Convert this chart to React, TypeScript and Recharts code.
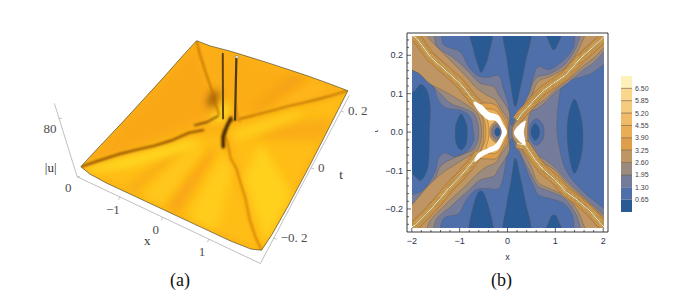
import React from "react"
import { ScatterChart, Scatter, XAxis, YAxis, BarChart, Bar, Cell } from "recharts"

// ---- panel (b): contour levels, colour bar ----
const levelTicks = [0.65, 1.3, 1.95, 2.6, 3.25, 3.9, 4.55, 5.2, 5.85, 6.5]
const levelSteps = [0.65, 0.65, 0.65, 0.65, 0.65, 0.65, 0.65, 0.65, 0.65, 0.65, 0.65]
const levelColors = ["#2a5a93", "#4f6fab", "#757b9a", "#9b8a7e", "#be9563", "#de9e4b", "#e9ad56", "#f0ba66", "#f5cc7e", "#f9d88e", "#fdf0b8"]

const xFrameTicks = [-2, -1.8, -1.6, -1.4, -1.2, -1, -0.8, -0.6, -0.4, -0.2, 0, 0.2, 0.4, 0.6, 0.8, 1, 1.2, 1.4, 1.6, 1.8, 2]
const tFrameTicks = [-0.24, -0.22, -0.2, -0.18, -0.16, -0.14, -0.12, -0.1, -0.08, -0.06, -0.04, -0.02, 0, 0.02, 0.04, 0.06, 0.08, 0.1, 0.12, 0.14, 0.16, 0.18, 0.2, 0.22, 0.24]
const xMajor = [-2, -1, 0, 1, 2]
const tMajor = [-0.2, -0.1, 0, 0.1, 0.2]

// contour outlines, flat x,t lists
const lowTop1 = [-0.79, 0.27, -0.717, 0.214, -0.612, 0.168, -0.557, 0.155, -0.494, 0.168, -0.404, 0.2, -0.334, 0.27]
const lowTop2 = [-0.08, 0.27, -0.02, 0.1875, 0.05, 0.127, 0.15, 0.066, 0.26, 0.118, 0.36, 0.179, 0.47, 0.27]
const lowTop3 = [0.78, 0.27, 0.88, 0.227, 0.95, 0.214, 1.03, 0.227, 1.13, 0.27]
const lowBot1 = [-0.8, -0.27, -0.717, -0.19, -0.578, -0.153, -0.438, -0.18, -0.313, -0.27]
const lowBot2 = [-0.08, -0.27, -0.03, -0.19, 0.06, -0.13, 0.15, -0.068, 0.26, -0.12, 0.36, -0.18, 0.47, -0.27]
const lowBot3 = [0.78, -0.27, 0.88, -0.225, 0.95, -0.216, 1.03, -0.225, 1.13, -0.27]
const lowLeftBig = [-2.2, 0.07, -1.93, 0.109, -1.82, 0.124, -1.69, 0.109, -1.62, 0.066, -1.635, 0, -1.66, -0.086, -1.8, -0.125, -1.93, -0.116, -2.2, -0.07]
const lowLeftSmall = [-0.975, 0.047, -0.87, 0.022, -0.85, 0, -0.87, -0.03, -0.975, -0.047, -1.08, -0.03, -1.1, 0, -1.08, 0.022]
const lowRightBig = [1.385, 0.085, 1.5, 0.05, 1.56, 0, 1.53, -0.06, 1.385, -0.108, 1.27, -0.06, 1.23, 0, 1.27, 0.05]

const band130 = [
  -1.48, 0.27, -1.34, 0.227, -1, 0.209, -0.84, 0.174, -0.65, 0.148, -0.44, 0.142, -0.19, 0.146, -0.1, 0.114, 0, 0.075, 0.04, 0.04, 0.05, 0.02,
  0.1, 0.02, 0.15, 0.036, 0.4, 0.088, 0.54, 0.148, 0.64, 0.17, 0.88, 0.163, 1.2, 0.192, 1.37, 0.222, 1.48, 0.27, 2.2, 0.27, 2.2, 0.205,
  1.79, 0.157, 1.54, 0.144, 1.16, 0.127, 1.06, 0.083, 1.02, 0.03, 1.02, 0, 1.06, -0.034, 1.16, -0.086, 1.34, -0.125, 1.61, -0.16, 1.86, -0.186, 2.2, -0.22,
  2.2, -0.27, 1.48, -0.27, 1.34, -0.216, 1.16, -0.186, 0.88, -0.173, 0.64, -0.164, 0.54, -0.142, 0.43, -0.112, 0.26, -0.06, 0.15, -0.04, 0.1, -0.02,
  0.05, -0.02, 0.03, -0.04, -0.02, -0.06, -0.16, -0.142, -0.44, -0.147, -0.68, -0.151, -0.89, -0.181, -1.03, -0.212, -1.34, -0.225, -1.52, -0.27, -2.2, -0.27,
  -2.2, -0.18, -1.76, -0.151, -1.52, -0.103, -1.45, -0.069, -1.31, -0.055, -1.1, -0.064, -0.86, -0.051, -0.72, -0.025, -0.72, 0, -0.79, 0.04, -1, 0.057,
  -1.31, 0.064, -1.48, 0.092, -1.59, 0.148, -1.76, 0.179, -2.2, 0.205, -2.2, 0.27,
]
const band195Left = [
  -1.62, 0.27, -1.48, 0.222, -1.17, 0.196, -0.96, 0.174, -0.79, 0.153, -0.58, 0.127, -0.3, 0.118, -0.19, 0.096, 0.01, 0.057, 0.03, 0.03, 0.01, 0, 0.03, -0.03, 0.01, -0.055,
  -0.19, -0.095, -0.3, -0.115, -0.58, -0.125, -0.8, -0.15, -0.98, -0.17, -1.2, -0.195, -1.48, -0.225, -1.65, -0.27, -2.2, -0.27, -2.2, -0.21, -1.76, -0.165, -1.52, -0.12,
  -1.41, -0.09, -1.2, -0.072, -0.93, -0.058, -0.72, -0.045, -0.63, -0.023, -0.61, 0, -0.63, 0.023, -0.72, 0.049, -0.93, 0.062, -1.2, 0.075, -1.41, 0.1, -1.52, 0.114, -1.76, 0.148, -2.2, 0.18, -2.2, 0.27,
]
const band195Right = [
  0.08, 0.01, 0.2, 0.04, 0.42, 0.095, 0.58, 0.14, 0.88, 0.152, 1.2, 0.178, 1.42, 0.22, 1.62, 0.27, 2.2, 0.27, 2.2, 0.24, 1.82, 0.185, 1.55, 0.16, 1.25, 0.128, 0.98, 0.103, 0.8, 0.08,
  0.6, 0.06, 0.42, 0.05, 0.39, 0.02, 0.38, 0, 0.39, -0.02, 0.42, -0.05, 0.6, -0.06, 0.8, -0.075, 1, -0.095, 1.25, -0.13, 1.55, -0.165, 1.85, -0.2, 2.2, -0.24, 2.2, -0.27, 1.62, -0.27,
  1.42, -0.215, 1.2, -0.175, 0.88, -0.155, 0.62, -0.14, 0.42, -0.095, 0.2, -0.04, 0.08, -0.01, 0.07, 0,
]
const band260Left = [
  -1.78, 0.27, -1.62, 0.24, -1.31, 0.2, -1.1, 0.174, -0.84, 0.14, -0.65, 0.114, -0.44, 0.096, -0.26, 0.083, -0.13, 0.057, 0.01, 0.028, -0.01, 0, 0.01, -0.028, -0.13, -0.055,
  -0.26, -0.08, -0.44, -0.09, -0.65, -0.11, -0.84, -0.135, -1.1, -0.165, -1.31, -0.19, -1.62, -0.23, -1.78, -0.27, -2.2, -0.27, -2.2, -0.225, -1.83, -0.165, -1.62, -0.135, -1.35, -0.105,
  -1.1, -0.085, -0.85, -0.065, -0.65, -0.05, -0.57, -0.025, -0.55, 0, -0.57, 0.025, -0.65, 0.05, -0.85, 0.07, -1.1, 0.09, -1.35, 0.108, -1.62, 0.125, -1.83, 0.15, -2.2, 0.185, -2.2, 0.27,
]
const band260Right = [
  0.12, 0.018, 0.3, 0.05, 0.48, 0.09, 0.62, 0.13, 0.88, 0.145, 1.2, 0.168, 1.45, 0.21, 1.72, 0.27, 2.2, 0.27, 2.2, 0.25, 1.85, 0.2, 1.55, 0.17, 1.25, 0.135, 0.98, 0.11, 0.8, 0.088,
  0.6, 0.07, 0.47, 0.055, 0.42, 0.03, 0.41, 0, 0.42, -0.03, 0.47, -0.055, 0.6, -0.068, 0.8, -0.085, 1, -0.102, 1.25, -0.137, 1.55, -0.17, 1.85, -0.205, 2.2, -0.25, 2.2, -0.27, 1.72, -0.27,
  1.45, -0.205, 1.2, -0.168, 0.88, -0.148, 0.62, -0.13, 0.48, -0.09, 0.3, -0.05, 0.12, -0.018, 0.09, 0,
]
const core325 = [-0.6, 0.07, -0.4, 0.075, -0.24, 0.068, -0.12, 0.045, -0.01, 0.018, -0.01, -0.018, -0.12, -0.045, -0.24, -0.068, -0.4, -0.07, -0.6, -0.065, -0.52, -0.03, -0.51, 0, -0.52, 0.03]
const core390 = [-0.55, 0.055, -0.4, 0.06, -0.24, 0.055, -0.12, 0.035, -0.03, 0.012, -0.03, -0.012, -0.12, -0.035, -0.24, -0.055, -0.4, -0.055, -0.55, -0.05, -0.48, -0.025, -0.46, 0, -0.48, 0.025]
const core455 = [-0.45, 0.045, -0.3, 0.043, -0.15, 0.025, -0.06, 0.008, -0.06, -0.008, -0.15, -0.025, -0.3, -0.043, -0.45, -0.042, -0.41, -0.02, -0.4, 0, -0.41, 0.02]

const ringLeft260 = [-0.23, 0.029, -0.1, 0.015, -0.08, 0, -0.1, -0.015, -0.23, -0.029, -0.36, -0.015, -0.38, 0, -0.36, 0.015]
const ringLeft195 = [-0.23, 0.024, -0.13, 0.012, -0.11, 0, -0.13, -0.012, -0.23, -0.024, -0.33, -0.012, -0.35, 0, -0.33, 0.012]
const ringLeft130 = [-0.23, 0.019, -0.15, 0.01, -0.14, 0, -0.15, -0.01, -0.23, -0.019, -0.31, -0.01, -0.32, 0, -0.31, 0.01]
const ringLeft065 = [-0.22, 0.012, -0.17, 0.006, -0.16, 0, -0.17, -0.006, -0.22, -0.012, -0.27, -0.006, -0.28, 0, -0.27, 0.006]
const ringRight130 = [0.59, 0.035, 0.72, 0.02, 0.75, 0, 0.72, -0.02, 0.59, -0.035, 0.47, -0.02, 0.44, 0, 0.47, 0.02]
const ringRight065 = [0.57, 0.022, 0.64, 0.012, 0.66, 0, 0.64, -0.012, 0.57, -0.022, 0.5, -0.012, 0.48, 0, 0.5, 0.012]

const whiteLeft = [-0.72, 0.078, -0.55, 0.07, -0.4, 0.052, -0.2, 0.043, -0.1, 0.02, -0.02, 0, -0.1, -0.02, -0.2, -0.045, -0.4, -0.055, -0.55, -0.065, -0.7, -0.078, -0.62, -0.055, -0.42, -0.042, -0.25, -0.03, -0.13, 0, -0.25, 0.028, -0.42, 0.032, -0.62, 0.055]
const whiteRight = [0.36, 0.03, 0.12, -0.002, 0.36, -0.035, 0.33, 0]

const ridgeTopLeft = [-2.05, 0.255, -1.9, 0.244, -1.62, 0.196, -1.27, 0.157, -1, 0.127, -0.72, 0.083, -0.58, 0.068, -0.44, 0.05]
const ridgeBottomLeft = [-2.05, -0.25, -1.93, -0.242, -1.69, -0.212, -1.41, -0.173, -1.24, -0.147, -1, -0.116, -0.79, -0.086, -0.61, -0.055]
const ridgeTopRight = [2.05, 0.255, 2, 0.248, 1.75, 0.218, 1.51, 0.192, 1.2, 0.148, 0.95, 0.127, 0.71, 0.105, 0.54, 0.083, 0.4, 0.062, 0.29, 0.049, 0.19, 0.031]
const ridgeBottomRight = [0.19, -0.03, 0.36, -0.034, 0.57, -0.073, 0.74, -0.099, 0.99, -0.125, 1.2, -0.155, 1.44, -0.177, 1.72, -0.207, 1.96, -0.242, 2.05, -0.255]

// ---- panel (a): |u| surface read as x,t,u triples ----
const surfaceEdge = [
  [-2, -0.25, 10], [-1.8, -0.25, 5], [-1.4, -0.25, 3], [-0.8, -0.25, 3], [0, -0.25, 3], [0.8, -0.25, 3], [1.4, -0.25, 3], [1.8, -0.25, 5], [2, -0.25, 10],
  [2, -0.2, 4], [2, -0.12, 1], [2, 0, 1], [2, 0.1, 4], [2, 0.18, 7], [2, 0.25, 10],
  [1.6, 0.25, 11], [1, 0.25, 12], [0, 0.25, 12], [-1, 0.25, 11], [-1.6, 0.25, 9], [-2, 0.25, 10],
  [-2, 0.18, 10], [-2, 0.08, 9], [-2, 0, 9], [-2, -0.1, 9], [-2, -0.2, 10],
]
const ridgeBLeft = [[-2, -0.25, 10], [-1.75, -0.218, 11], [-1.5, -0.187, 12], [-1.25, -0.155, 11], [-1, -0.125, 10], [-0.75, -0.095, 11], [-0.5, -0.062, 14], [-0.3, -0.036, 12]]
const ridgeBRight = [[0.12, 0.015, 14], [0.4, 0.05, 13], [0.75, 0.095, 12], [1, 0.125, 12], [1.25, 0.156, 11], [1.5, 0.187, 10], [1.75, 0.218, 10], [2, 0.25, 10]]
const ridgeATop = [[-2, 0.25, 10], [-1.75, 0.22, 3], [-1.5, 0.19, 3], [-1.25, 0.155, 8], [-1, 0.125, 8], [-0.75, 0.095, 8], [-0.5, 0.06, 9], [-0.25, 0.03, 10]]
const ridgeABottom = [[0.05, -0.01, 10], [0.25, -0.03, 6], [0.5, -0.065, 3], [0.75, -0.09, 6], [1, -0.125, 10], [1.25, -0.155, 8], [1.5, -0.19, 4], [1.75, -0.22, 4], [2, -0.25, 10]]
const centerShadow = [[0.02, 0.035, 8], [0.05, 0.01, 8], [0.1, -0.02, 6], [0.2, -0.04, 2]]
const footLeft = [[-0.6, -0.02, 6], [-0.4, 0.0, 7], [-0.22, 0.02, 12]]
const spikeLeft = [[-0.15, 0.03, 6], [-0.15, 0.03, 95]]
const spikeRight = [[0.1, 0.04, 6], [0.1, 0.04, 92]]
const spikeFlare = [[0.1, 0.04, 8], [0.1, 0.04, 90], [0.12, 0.04, 90], [0.14, 0.04, 30], [0.22, 0.035, 12], [0.3, 0.03, 8]]

const shades: [string, number[]][] = [
  ["#faa713", [-2, 0.25, -0.3, 0.03, -2, -0.25]],
  ["#ffbe19", [-2, -0.25, 0, -0.02, 2, -0.25]],
  ["#ffbd18", [0.1, 0, 2, -0.25, 2, 0.25]],
  ["#fbad15", [-2, 0.25, 0, 0.03, 2, 0.25]],
  ["#f9a613", [0, -0.25, 0.3, -0.25, 0.2, -0.08, 0.05, -0.06]],
  ["#f9ad15", [-0.95, -0.25, -0.7, -0.25, -0.4, -0.09, -0.55, -0.09]],
  ["#ffcc1c", [0.5, -0.25, 1.1, -0.25, 0.7, -0.1, 0.35, -0.07]],
  ["#ffc71a", [-0.5, -0.25, -0.1, -0.25, -0.1, -0.07, -0.3, -0.07]],
  ["#ffd01e", [0.9, 0, 2, -0.1, 2, -0.23, 1, -0.11]],
  ["#f9ac15", [2, 0.07, 2, 0.15, 0.95, 0.07, 0.7, 0]],
  ["#f6a312", [0.6, 0.25, 1, 0.25, 0.45, 0.08, 0.3, 0.08]],
  ["#ffb81a", [1.2, 0.25, 1.7, 0.25, 0.9, 0.13, 0.6, 0.09]],
  ["#ffde22", [-1.95, -0.25, -1.2, -0.165, -0.5, -0.075, -0.25, -0.05, -0.4, -0.1, -1.2, -0.2, -1.8, -0.25]],
  ["#ffd21f", [0.25, 0, 0.7, 0.06, 1.3, 0.14, 1.3, 0.11, 0.8, 0.03, 0.4, -0.02]],
  ["#ffe024", [-0.35, 0.08, -0.15, 0.07, -0.1, 0.02, -0.35, 0]],
  ["#6a3500", [-0.75, 0.1, -0.6, 0.1, -0.5, 0.05, -0.65, 0.05]],
]

const xAxisLabels = [{ v: -1, text: "−1" }, { v: 0, text: "0" }, { v: 1, text: "1" }]
const tAxisLabels = [{ v: -0.2, text: "−0. 2" }, { v: 0, text: "0" }, { v: 0.2, text: "0. 2" }]
const zAxisLabels = [{ v: 0, text: "0" }, { v: 80, text: "80" }]

// corners of the base plane on screen, then a plain perspective map
const [A, B, C, D] = [[83, 174], [261, 257.5], [346, 98], [197, 48]]
const den = (B[0] - C[0]) * (D[1] - C[1]) - (D[0] - C[0]) * (B[1] - C[1])
const sx = A[0] - B[0] + C[0] - D[0]
const sy = A[1] - B[1] + C[1] - D[1]
const g = (sx * (D[1] - C[1]) - (D[0] - C[0]) * sy) / den
const h = ((B[0] - C[0]) * sy - sx * (B[1] - C[1])) / den

function project(x: number, t: number, u = 0) {
  const s = (x + 2) / 4
  const r = (t + 0.25) / 0.5
  const w = g * s + h * r + 1
  const px = ((B[0] - A[0] + g * B[0]) * s + (D[0] - A[0] + h * D[0]) * r + A[0]) / w
  const py = ((B[1] - A[1] + g * B[1]) * s + (D[1] - A[1] + h * D[1]) * r + A[1]) / w
  const lift = u * 0.73
  return { x: px + ((px - 225) / 476) * lift, y: py - lift }
}

const pairs = (flat: number[]) => {
  const out: { x: number; t: number }[] = []
  for (let i = 0; i < flat.length; i += 2) out.push({ x: flat[i], t: flat[i + 1] })
  return out
}

function smoothClosed(p: { x: number; y: number }[]) {
  const n = p.length
  let d = `M${p[0].x},${p[0].y}`
  for (let i = 0; i < n; i++) {
    const [p0, p1, p2, p3] = [p[(i - 1 + n) % n], p[i], p[(i + 1) % n], p[(i + 2) % n]]
    d += `C${p1.x + (p2.x - p0.x) / 6},${p1.y + (p2.y - p0.y) / 6} ${p2.x - (p3.x - p1.x) / 6},${p2.y - (p3.y - p1.y) / 6} ${p2.x},${p2.y}`
  }
  return d + "Z"
}
const straightClosed = (p: { x: number; y: number }[]) => "M" + p.map((q) => `${q.x},${q.y}`).join("L") + "Z"

const noDot = () => null

function contour(key: string, flat: number[], fill: string, stroke = "#5d5648") {
  return (
    <Scatter
      key={key}
      data={pairs(flat)}
      shape={noDot}
      isAnimationActive={false}
      line={(p: any) => <path d={smoothClosed(p.points)} fill={fill} stroke={stroke} strokeWidth={0.5} strokeOpacity={0.75} />}
    />
  )
}

// one ridge of the contour plot: stacked strokes stand in for the tight high levels
const ridgeWidths = [9, 7, 5, 3.5, 2.2, 1]
function ridge(key: string, flat: number[]) {
  return ridgeWidths.map((w, i) => (
    <Scatter
      key={key + i}
      data={pairs(flat)}
      shape={noDot}
      isAnimationActive={false}
      lineJointType="natural"
      line={(p: any) => (
        <g>
          <path d={"M" + p.points.map((q: any) => `${q.x},${q.y}`).join("L")} fill="none" stroke="#7d5a2c" strokeWidth={w + 0.7} strokeLinejoin="round" strokeOpacity={0.8} />
          <path d={"M" + p.points.map((q: any) => `${q.x},${q.y}`).join("L")} fill="none" stroke={levelColors[i + 5]} strokeWidth={w} strokeLinejoin="round" />
        </g>
      )}
    />
  ))
}

function ContourPlot() {
  return (
    <ScatterChart width={192} height={192} margin={{ top: 0, right: 0, bottom: 0, left: 0 }} style={{ position: "absolute", left: 412, top: 36 }}>
      <XAxis dataKey="x" type="number" domain={[-2, 2]} allowDataOverflow hide />
      <YAxis dataKey="t" type="number" domain={[-0.25, 0.25]} allowDataOverflow hide />
      {contour("bg", [-2.2, 0.27, 2.2, 0.27, 2.2, -0.27, -2.2, -0.27], levelColors[1], "none")}
      {contour("b130", band130, levelColors[2])}
      {contour("b195l", band195Left, levelColors[3])}
      {contour("b195r", band195Right, levelColors[3])}
      {contour("b260l", band260Left, levelColors[4])}
      {contour("b260r", band260Right, levelColors[4])}
      {ridge("tl", ridgeTopLeft)}
      {ridge("bl", ridgeBottomLeft)}
      {ridge("tr", ridgeTopRight)}
      {ridge("br", ridgeBottomRight)}
      {contour("c325", core325, levelColors[5])}
      {contour("c390", core390, levelColors[6])}
      {contour("c455", core455, levelColors[7])}
      {contour("r260", ringLeft260, levelColors[4])}
      {contour("r195", ringLeft195, levelColors[3])}
      {contour("r130", ringLeft130, levelColors[2])}
      {contour("r065", ringLeft065, levelColors[0])}
      {contour("rr130", ringRight130, levelColors[1])}
      {contour("rr065", ringRight065, levelColors[0])}
      {contour("wl", whiteLeft, "#ffffff", "none")}
      {contour("wr", whiteRight, "#ffffff", "none")}
      {[lowTop1, lowTop2, lowTop3, lowBot1, lowBot2, lowBot3, lowLeftBig, lowLeftSmall, lowRightBig].map((z, i) => contour("low" + i, z, levelColors[0]))}
    </ScatterChart>
  )
}

const frameInk = "#222222"
const labelInk = "#2b3550"

function frameTick(side: "bottom" | "top" | "left" | "right") {
  return (props: any) => {
    const { x, y, payload } = props
    const v = payload.value
    const isX = side === "bottom" || side === "top"
    const major = (isX ? xMajor : tMajor).includes(v)
    const len = major ? 4 : 2
    const line = {
      bottom: { x1: x, x2: x, y1: y, y2: y - len },
      top: { x1: x, x2: x, y1: y, y2: y + len },
      left: { x1: x, x2: x + len, y1: y, y2: y },
      right: { x1: x, x2: x - len, y1: y, y2: y },
    }[side]
    const fmt = (n: number) => (n < 0 ? "−" : "") + Math.abs(n).toFixed(side === "left" ? 1 : 0)
    return (
      <g>
        <line {...line} stroke={frameInk} strokeWidth={0.7} />
        {major && side === "bottom" && (
          <text x={x} y={y + 12} textAnchor="middle" fontSize={9} fontFamily="Liberation Sans" fill={labelInk}>{fmt(v)}</text>
        )}
        {major && side === "left" && (
          <text x={x - 4} y={y + 3} textAnchor="end" fontSize={9} fontFamily="Liberation Sans" fill={labelInk}>{fmt(v)}</text>
        )}
      </g>
    )
  }
}

function FramePlot() {
  const axisLine = { stroke: frameInk, strokeWidth: 0.9 }
  return (
    <ScatterChart width={240} height={240} margin={{ top: 0, right: 0, bottom: 0, left: 0 }} style={{ position: "absolute", left: 375, top: 20 }}>
      <XAxis xAxisId="b" orientation="bottom" type="number" dataKey="x" domain={[-2.1, 2.1]} ticks={xFrameTicks} interval={0} height={28} tickLine={false} tickSize={0} tickMargin={0} axisLine={axisLine} tick={frameTick("bottom")}
        label={{ value: "x", position: "insideBottom", offset: 0, fontSize: 9, fontFamily: "Liberation Sans", fill: labelInk }} />
      <XAxis xAxisId="t" orientation="top" type="number" dataKey="x" domain={[-2.1, 2.1]} ticks={xFrameTicks} interval={0} height={13} tickLine={false} tickSize={0} tickMargin={0} axisLine={axisLine} tick={frameTick("top")} />
      <YAxis yAxisId="l" orientation="left" type="number" dataKey="t" domain={[-0.26, 0.258]} ticks={tFrameTicks} interval={0} width={32} tickLine={false} tickSize={0} tickMargin={0} axisLine={axisLine} tick={frameTick("left")}
        label={{ value: "t", angle: -90, position: "insideLeft", offset: 0, fontSize: 9, fontFamily: "Liberation Sans", fill: labelInk }} />
      <YAxis yAxisId="r" orientation="right" type="number" dataKey="t" domain={[-0.26, 0.258]} ticks={tFrameTicks} interval={0} width={7} tickLine={false} tickSize={0} tickMargin={0} axisLine={axisLine} tick={frameTick("right")} />
      <Scatter xAxisId="b" yAxisId="l" data={[{ x: 0, t: 0 }]} shape={noDot} isAnimationActive={false} />
    </ScatterChart>
  )
}

function ColorBar() {
  const row = Object.fromEntries(levelSteps.map((v, i) => [`l${i}`, v]))
  return (
    <BarChart width={45} height={136} data={[row]} margin={{ top: 0, right: 0, bottom: 0, left: 0 }} barCategoryGap={0} style={{ position: "absolute", left: 621, top: 75.7 }}>
      <XAxis hide />
      <YAxis
        orientation="right"
        width={34}
        domain={[0, 7.15]}
        ticks={levelTicks}
        interval={0}
        tickLine={false}
        tickSize={0}
        tickMargin={0}
        axisLine={false}
        tick={(p: any) => (
          <g>
            <line x1={p.x - 11} x2={p.x} y1={p.y} y2={p.y} stroke="#6d5a3c" strokeWidth={0.7} strokeOpacity={p.payload.value > 1.5 ? 0.9 : 0.2} />
            <text x={p.x + 3} y={p.y + 2.5} fontSize={7} fontFamily="Liberation Sans" fill="#3f4148">{p.payload.value.toFixed(2)}</text>
          </g>
        )}
      />
      {levelSteps.map((_, i) => (
        <Bar key={i} dataKey={`l${i}`} stackId="levels" fill={levelColors[i]} isAnimationActive={false}>
          <Cell fill={levelColors[i]} />
        </Bar>
      ))}
    </BarChart>
  )
}

const toScreen = (list: number[][]) => list.map(([x, t, u]) => project(x, t, u))

function surfaceLine(key: string, list: number[][], stroke: string, width: number, soft = false) {
  return (
    <Scatter
      key={key}
      data={toScreen(list)}
      shape={noDot}
      isAnimationActive={false}
      line={(p: any) => (
        <g clipPath={soft ? "url(#surfaceClip)" : undefined}>
          <path d={"M" + p.points.map((q: any) => `${q.x},${q.y}`).join("L")} fill="none" stroke={stroke} strokeWidth={width} strokeLinecap="round" strokeLinejoin="round" filter={soft ? "url(#soft1)" : undefined} />
        </g>
      )}
    />
  )
}

function axisText(key: string, items: { v: number; text: string }[], place: (v: number) => { x: number; y: number }, dx: number, dy: number, anchor: string, tick: [number, number]) {
  return (
    <Scatter
      key={key}
      data={items.map((d) => ({ ...place(d.v), text: d.text }))}
      isAnimationActive={false}
      shape={(p: any) => (
        <g>
          <line x1={p.cx} y1={p.cy} x2={p.cx + tick[0]} y2={p.cy + tick[1]} stroke="#aaaaaa" strokeWidth={0.7} />
          <text x={p.cx + dx} y={p.cy + dy} textAnchor={anchor} fontSize={13} fontFamily="Liberation Serif" fill="#4d4d4d">{p.payload?.text ?? p.text}</text>
        </g>
      )}
    />
  )
}

const boxEdges = [[-2.06, -0.262, 100], [-2.06, -0.262, 0], [2.04, -0.262, 0], [2.04, 0.262, 0]]
const axisTitles = [
  { label: "x", x: -0.4, t: -0.262, u: 0, dx: 2, dy: 36 },
  { label: "t", x: 2.04, t: 0, u: 0, dx: 30, dy: 11 },
  { label: "|u|", x: -2.06, t: -0.262, u: 20, dx: -22, dy: 10 },
]

function SurfacePlot() {
  return (
    <ScatterChart width={694} height={295} margin={{ top: 0, right: 0, bottom: 0, left: 0 }} style={{ position: "absolute", left: 0, top: 0 }}>
      <defs>
        <filter id="soft1" filterUnits="userSpaceOnUse" x={0} y={0} width={694} height={295}><feGaussianBlur stdDeviation={1} /></filter>
        <filter id="soft4" filterUnits="userSpaceOnUse" x={0} y={0} width={694} height={295}><feGaussianBlur stdDeviation={4} /></filter>
      </defs>
      <XAxis dataKey="x" type="number" domain={[0, 694]} hide />
      <YAxis dataKey="y" type="number" domain={[0, 295]} reversed hide />
      {surfaceLine("box", boxEdges, "#b0b0b0", 0.8)}
      <Scatter
        data={toScreen(surfaceEdge)}
        shape={noDot}
        isAnimationActive={false}
        line={(p: any) => (
          <g>
            <clipPath id="surfaceClip"><path d={straightClosed(p.points)} /></clipPath>
            <path d={straightClosed(p.points)} fill="#fcb216" />
          </g>
        )}
      />
      {shades.map(([color, flat], i) => (
        <Scatter
          key={"shade" + i}
          data={pairs(flat).map((q) => project(q.x, q.t, 8))}
          shape={noDot}
          isAnimationActive={false}
          line={(p: any) => (
            <g clipPath="url(#surfaceClip)"><path d={straightClosed(p.points)} fill={color} filter="url(#soft4)" /></g>
          )}
        />
      ))}
      {surfaceLine("a1", ridgeATop, "#b96a08", 1.6, true)}
      {surfaceLine("a2", ridgeABottom, "#c9780a", 1.6, true)}
      {surfaceLine("b1", ridgeBLeft, "#8f4e05", 2.2, true)}
      {surfaceLine("b2", ridgeBRight, "#a85f08", 1.4, true)}
      {surfaceLine("foot", footLeft, "#6a3a05", 1.6, true)}
      {surfaceLine("shadow", centerShadow, "#3d2300", 3.5, true)}
      <Scatter
        data={spikeFlare.map(([x, t, u]) => project(x, t, u))}
        shape={noDot}
        isAnimationActive={false}
        line={(p: any) => <path d={straightClosed(p.points)} fill="#e39a10" />}
      />
      {surfaceLine("sl", spikeLeft, "#5d4210", 2)}
      {surfaceLine("sr", spikeRight, "#4f3a10", 2.2)}
      <Scatter
        data={[project(spikeRight[1][0], spikeRight[1][1], spikeRight[1][2])]}
        isAnimationActive={false}
        shape={(p: any) => <ellipse cx={p.cx + 0.5} cy={p.cy} rx={2} ry={1.4} fill="#e8e8e0" stroke="#555" strokeWidth={0.4} />}
      />
      <Scatter
        data={toScreen(surfaceEdge)}
        shape={noDot}
        isAnimationActive={false}
        line={(p: any) => <path d={straightClosed(p.points)} fill="none" stroke="#3a3a2a" strokeWidth={0.6} />}
      />
      {axisText("xl", xAxisLabels, (v) => project(v, -0.262, 0), -7, 17, "middle", [-1.5, 3])}
      {axisText("tl", tAxisLabels, (v) => project(2.04, v, 0), 7, 4, "start", [3, 1])}
      {axisText("zl", zAxisLabels, (v) => project(-2.06, -0.262, v), -9, 15, "middle", [3, 0])}
      <Scatter
        data={axisTitles.map((d) => ({ ...project(d.x, d.t, d.u), label: d.label, dx: d.dx, dy: d.dy }))}
        isAnimationActive={false}
        shape={(p: any) => (
          <text x={p.cx + p.dx} y={p.cy + p.dy} textAnchor="middle" fontSize={13} fontFamily="Liberation Serif" fill="#333">{p.label}</text>
        )}
      />
    </ScatterChart>
  )
}

const captionStyle: React.CSSProperties = { position: "absolute", top: 270, fontFamily: "Liberation Serif", fontSize: 18, lineHeight: "20px", color: "#111" }

export default function App() {
  return (
    <div style={{ position: "absolute", left: 0, top: 0, width: 694, height: 295, background: "#fff", overflow: "hidden" }}>
      <SurfacePlot />
      <FramePlot />
      <ContourPlot />
      <ColorBar />
      <div style={{ ...captionStyle, left: 170 }}>(a)</div>
      <div style={{ ...captionStyle, left: 491 }}>(b)</div>
    </div>
  )
}
